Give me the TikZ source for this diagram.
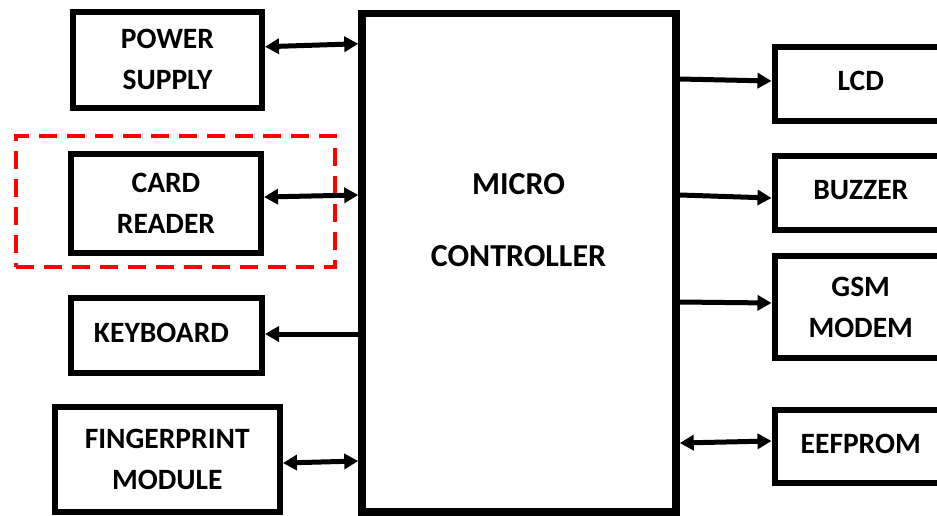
\documentclass[tikz,border=0pt]{standalone}
\usepackage{fontspec}
\setmainfont{Carlito}
\usetikzlibrary{arrows.meta}
\begin{document}
\begin{tikzpicture}[x=1pt,y=-1pt,
  blk/.style={draw,line width=6pt,rectangle,inner sep=0pt,align=center,
    font=\bfseries\fontsize{29.5}{41}\selectfont},
  con/.style={line width=5pt},
  uni/.style={con,-{Triangle[length=14pt,width=15pt]}},
  bi/.style={con,{Triangle[length=14pt,width=15pt]}-{Triangle[length=14pt,width=15pt]}},
  grpbox/.style={draw=red,dash pattern=on 18pt off 10pt,line width=4pt,rectangle,inner sep=0pt}]
\useasboundingbox (0,0) rectangle (937,515);
\clip (0,0) rectangle (937,515);
% group frame
\node[grpbox,minimum width=319pt,minimum height=131pt] (grp) at (175.5,201.5) {};
% microcontroller
\node[draw,line width=7.5pt,rectangle,inner sep=0pt,minimum width=314pt,minimum height=498.5pt] (mc) at (519,262.75) {};
\node[align=center,inner sep=0pt,font=\bfseries\fontsize{32}{41}\selectfont] (mct) at (518.5,220) {MICRO\\[31pt]CONTROLLER};
% left blocks
\node[blk,minimum width=189pt,minimum height=95.5pt] (ps) at (167.5,59.75) {POWER\\SUPPLY};
\node[blk,minimum width=190pt,minimum height=99pt] (cr) at (166,203.5) {CARD\\READER};
\node[blk,minimum width=191pt,minimum height=75pt] (kb) at (166.5,335.5) {\raisebox{5pt}{KEYBOARD}\hspace*{10pt}};
\node[blk,minimum width=225.5pt,minimum height=105pt] (fp) at (167.25,459.5) {FINGERPRINT\\MODULE};
% right blocks
\node[blk,minimum width=172.5pt,minimum height=73.5pt] (lcd) at (860.75,83.75) {\raisebox{5pt}{LCD}};
\node[blk,minimum width=172.5pt,minimum height=74pt] (bz) at (860.75,193) {\raisebox{6pt}{BUZZER}};
\node[blk,minimum width=172.5pt,minimum height=102pt] (gsm) at (860.75,307) {GSM\\MODEM};
\node[blk,minimum width=172.5pt,minimum height=73pt] (ee) at (860.75,446.5) {\raisebox{5.5pt}{EEFPROM}};
% connectors
\draw[bi] ([yshift=13pt]ps.east) -- ([yshift=16pt]ps.east -| mc.west);
\draw[bi] ([yshift=6.5pt]cr.east) -- ([yshift=8.5pt]cr.east -| mc.west);
\draw[uni] ([yshift=1.5pt]kb.east -| mc.west) -- ([yshift=1.5pt]kb.east);
\draw[bi] ([yshift=-3.5pt]fp.east) -- ([yshift=-1.5pt]fp.east -| mc.west);
\draw[uni] ([yshift=4.75pt]lcd.west -| mc.east) -- ([yshift=2.75pt]lcd.west);
\draw[uni] ([yshift=-2pt]bz.west -| mc.east) -- ([yshift=-5pt]bz.west);
\draw[uni] ([yshift=5pt]gsm.west -| mc.east) -- ([yshift=4pt]gsm.west);
\draw[bi] ([yshift=3.5pt]ee.west -| mc.east) -- ([yshift=5.5pt]ee.west);
\end{tikzpicture}
\end{document}
